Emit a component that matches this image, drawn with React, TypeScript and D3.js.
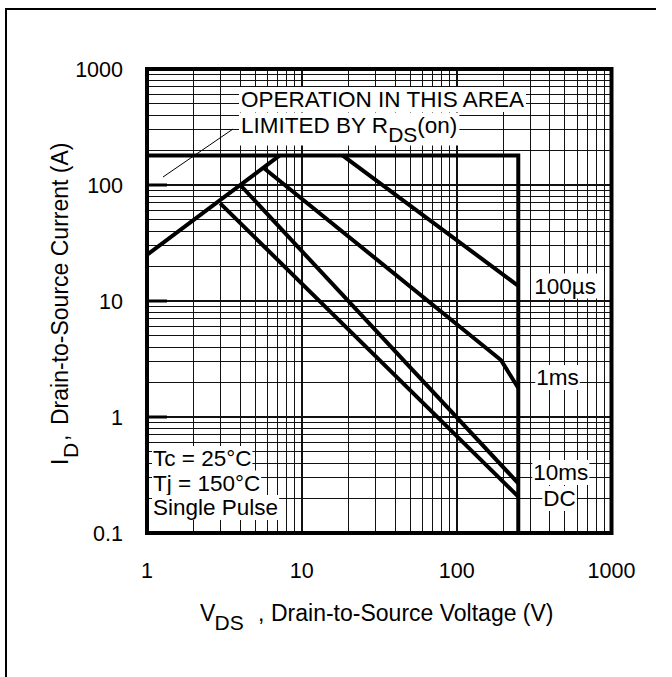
import React, { useEffect, useRef } from 'react';
import * as d3 from 'd3';

const W = 672;
const H = 677;

const xTickValues = [1, 10, 100, 1000];
const xTickLabels = ['1', '10', '100', '1000'];
const yTickValues = [0.1, 1, 10, 100, 1000];
const yTickLabels = ['0.1', '1', '10', '100', '1000'];

const currentLimit = 180; // A
const voltageLimit = 250; // V

// R_DS(on) limited line
const rdsV = [1, 7.2];
const rdsI = [25, 180];
// 100 µs
const us100V = [18.3, 250];
const us100I = [180, 13.5];
// 1 ms
const ms1V = [5.65, 193, 250];
const ms1I = [141, 3.1, 1.78];
// 10 ms
const ms10V = [4.0, 250];
const ms10I = [100, 0.268];
// DC
const dcV = [2.97, 250];
const dcI = [69.5, 0.206];

const curveLabels = ['100µs', '1ms', '10ms', 'DC'];
const conditionLines = ['Tc = 25°C', 'Tj = 150°C', 'Single Pulse'];

const FONT = "'Liberation Sans', Arial, Helvetica, sans-serif";

export default function App() {
  const ref = useRef<SVGSVGElement | null>(null);

  useEffect(() => {
    const svg = d3.select(ref.current);
    svg.selectAll('*').remove();

    const x0 = 147, x1 = 611.5, y0 = 533, y1 = 69;
    const x = d3.scaleLog().domain([1, 1000]).range([x0, x1]);
    const y = d3.scaleLog().domain([0.1, 1000]).range([y0, y1]);

    svg.append('rect').attr('width', W).attr('height', H).attr('fill', '#fff');

    // grid
    const grid = svg.append('g').attr('shape-rendering', 'crispEdges');
    [1, 10, 100].forEach((d) => {
      for (let k = 1; k <= 9; k++) {
        const v = d * k;
        if (v <= 1) continue;
        grid.append('line')
          .attr('x1', x(v)).attr('x2', x(v)).attr('y1', y0).attr('y2', y1)
          .attr('stroke', '#111').attr('stroke-width', k === 1 ? 2 : 1);
      }
    });
    [0.1, 1, 10, 100].forEach((d) => {
      for (let k = 1; k <= 9; k++) {
        const v = d * k;
        if (v <= 0.1) continue;
        grid.append('line')
          .attr('y1', y(v)).attr('y2', y(v)).attr('x1', x0).attr('x2', x1)
          .attr('stroke', '#111').attr('stroke-width', k === 1 ? 2 : 1);
      }
    });

    // labels with white boxes
    const labels = svg.append('g').attr('font-family', FONT).attr('fill', '#000');
    const boxed = (
      xx: number, yy: number, parts: { t: string; dy?: number; size?: number }[], size: number, pad = 1
    ) => {
      const g = labels.append('g');
      const t = g.append('text').attr('x', xx).attr('y', yy).attr('font-size', size);
      parts.forEach((p) => {
        const ts = t.append('tspan').text(p.t);
        if (p.dy) ts.attr('dy', p.dy);
        if (p.size) ts.attr('font-size', p.size);
      });
      const bb = (t.node() as SVGTextElement).getBBox();
      g.insert('rect', 'text')
        .attr('x', bb.x - pad).attr('y', bb.y)
        .attr('width', bb.width + 2 * pad).attr('height', bb.height)
        .attr('fill', '#fff');
    };

    boxed(241, 107, [{ t: 'OPERATION IN THIS AREA' }], 22.5, 2);
    boxed(241, 132.5, [{ t: 'LIMITED BY R' }, { t: 'DS', dy: 9, size: 21 }, { t: '(on)', dy: -9 }], 22.5, 2);

    const lx = x(voltageLimit);
    boxed(lx + 16, 293.5, [{ t: curveLabels[0] }], 22.5);
    boxed(lx + 18, 385, [{ t: curveLabels[1] }], 22.5);
    boxed(lx + 15, 480, [{ t: curveLabels[2] }], 22.5);
    boxed(lx + 25, 506, [{ t: curveLabels[3] }], 22.5);

    conditionLines.forEach((s, i) => {
      boxed(153, 466 + i * 24.5, [{ t: s }], 22.5);
    });

    // leader line
    svg.append('line')
      .attr('x1', 233).attr('y1', 129).attr('x2', 163).attr('y2', 177)
      .attr('stroke', '#000').attr('stroke-width', 1);

    // decade ticks on left axis
    [1, 10, 100].forEach((v) => {
      svg.append('line')
        .attr('x1', x0).attr('x2', x0 + 20).attr('y1', y(v)).attr('y2', y(v))
        .attr('stroke', '#000').attr('stroke-width', 3);
    });

    // SOA curves
    const line = d3.line<[number, number]>().x((d) => x(d[0])).y((d) => y(d[1]));
    const curves: [number[], number[]][] = [
      [rdsV, rdsI], [us100V, us100I], [ms1V, ms1I], [ms10V, ms10I], [dcV, dcI],
    ];
    curves.forEach(([vs, is]) => {
      svg.append('path')
        .attr('d', line(vs.map((v, i) => [v, is[i]] as [number, number])) as string)
        .attr('fill', 'none').attr('stroke', '#000').attr('stroke-width', 4)
        .attr('stroke-linejoin', 'round');
    });

    // limit boundary
    svg.append('path')
      .attr('d', line([[1, currentLimit], [voltageLimit, currentLimit], [voltageLimit, 0.1]]) as string)
      .attr('fill', 'none').attr('stroke', '#000').attr('stroke-width', 4);

    // frame
    svg.append('rect')
      .attr('x', x0).attr('y', y1).attr('width', x1 - x0).attr('height', y0 - y1)
      .attr('fill', 'none').attr('stroke', '#000').attr('stroke-width', 4);

    // tick labels
    const tl = svg.append('g').attr('font-family', FONT).attr('font-size', 21.5).attr('fill', '#000');
    yTickValues.forEach((v, i) => {
      tl.append('text').attr('x', 123).attr('y', y(v) + 7.5).attr('text-anchor', 'end').text(yTickLabels[i]);
    });
    xTickValues.forEach((v, i) => {
      tl.append('text').attr('x', x(v)).attr('y', 578).attr('text-anchor', 'middle').text(xTickLabels[i]);
    });

    // axis titles
    const at = svg.append('g').attr('font-family', FONT).attr('fill', '#000');
    at.append('text').attr('x', 200).attr('y', 621).attr('font-size', 23).text('V');
    at.append('text').attr('x', 214.5).attr('y', 630).attr('font-size', 21).text('DS');
    at.append('text').attr('x', 258).attr('y', 621).attr('font-size', 23).text(',');
    at.append('text').attr('x', 271).attr('y', 621).attr('font-size', 23).text('Drain-to-Source Voltage (V)');

    const yt = at.append('g').attr('transform', 'translate(68,465) rotate(-90)');
    yt.append('text').attr('x', 0).attr('y', 0).attr('font-size', 23).text('I');
    yt.append('text').attr('x', 7).attr('y', 10).attr('font-size', 21).text('D');
    yt.append('text').attr('x', 24).attr('y', 0).attr('font-size', 23).text(',');
    yt.append('text').attr('x', 40).attr('y', 0).attr('font-size', 23).text('Drain-to-Source Current (A)');

    // outer border (top and left)
    svg.append('path')
      .attr('d', `M6,${H} L6,9 L656,9`)
      .attr('fill', 'none').attr('stroke', '#000').attr('stroke-width', 2);
  }, []);

  return (
    <svg
      ref={ref}
      width={W}
      height={H}
      style={{ position: 'absolute', left: 0, top: 0, display: 'block' }}
    />
  );
}
